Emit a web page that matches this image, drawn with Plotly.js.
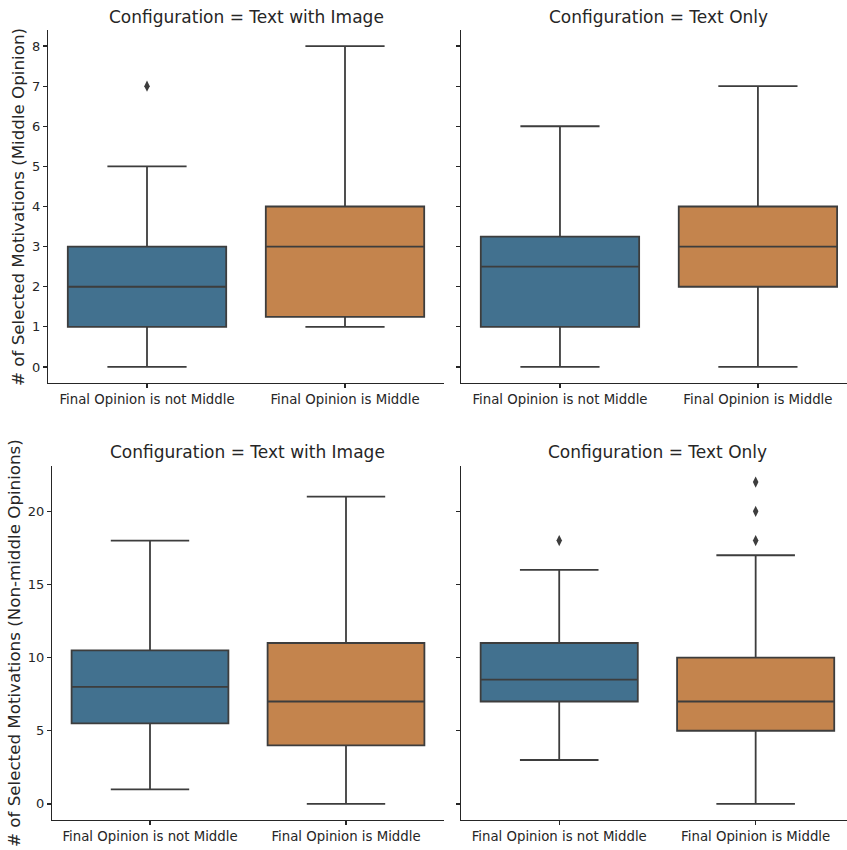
<!DOCTYPE html>
<html>
<head>
<meta charset="utf-8">
<script src="https://cdn.plot.ly/plotly-3.0.1.min.js"></script>
<style>html,body{margin:0;padding:0;background:#fff;}#chart{width:847px;height:850px;}</style>
</head>
<body>
<div id="chart"></div>
<script>
// ---- Data ----
const categories = ["Final Opinion is not Middle", "Final Opinion is Middle"];
const configurations = ["Text with Image", "Text Only"];
const rowLabels = ["# of Selected Motivations (Middle Opinion)", "# of Selected Motivations (Non-middle Opinions)"];

// Row 1: Middle Opinion — Text with Image
const midImgQ1 = [1, 1.25];
const midImgMedian = [2, 3];
const midImgQ3 = [3, 4];
const midImgLower = [0, 1];
const midImgUpper = [5, 8];
const midImgOutlierCat = ["Final Opinion is not Middle"];
const midImgOutlierVal = [7];

// Row 1: Middle Opinion — Text Only
const midTxtQ1 = [1, 2];
const midTxtMedian = [2.5, 3];
const midTxtQ3 = [3.25, 4];
const midTxtLower = [0, 0];
const midTxtUpper = [6, 7];
const midTxtOutlierCat = [];
const midTxtOutlierVal = [];

// Row 2: Non-middle Opinions — Text with Image
const nonImgQ1 = [5.5, 4];
const nonImgMedian = [8, 7];
const nonImgQ3 = [10.5, 11];
const nonImgLower = [1, 0];
const nonImgUpper = [18, 21];
const nonImgOutlierCat = [];
const nonImgOutlierVal = [];

// Row 2: Non-middle Opinions — Text Only
const nonTxtQ1 = [7, 5];
const nonTxtMedian = [8.5, 7];
const nonTxtQ3 = [11, 10];
const nonTxtLower = [3, 0];
const nonTxtUpper = [16, 17];
const nonTxtOutlierCat = ["Final Opinion is not Middle", "Final Opinion is Middle", "Final Opinion is Middle", "Final Opinion is Middle"];
const nonTxtOutlierVal = [18, 18, 20, 22];

const row1Ticks = [0, 1, 2, 3, 4, 5, 6, 7, 8];
const row2Ticks = [0, 5, 10, 15, 20];

// ---- Styling ----
const boxColors = ["#42718f", "#c4844d"];
const edge = "#3d3d3d";
const ink = "#262626";
const FONT = "DejaVu Sans, Liberation Sans, sans-serif";
const W = 847, H = 850;

const panels = [
  {xa: "x",  ya: "y",  q1: midImgQ1, med: midImgMedian, q3: midImgQ3, lo: midImgLower, hi: midImgUpper, oc: midImgOutlierCat, ov: midImgOutlierVal},
  {xa: "x2", ya: "y2", q1: midTxtQ1, med: midTxtMedian, q3: midTxtQ3, lo: midTxtLower, hi: midTxtUpper, oc: midTxtOutlierCat, ov: midTxtOutlierVal},
  {xa: "x3", ya: "y3", q1: nonImgQ1, med: nonImgMedian, q3: nonImgQ3, lo: nonImgLower, hi: nonImgUpper, oc: nonImgOutlierCat, ov: nonImgOutlierVal},
  {xa: "x4", ya: "y4", q1: nonTxtQ1, med: nonTxtMedian, q3: nonTxtQ3, lo: nonTxtLower, hi: nonTxtUpper, oc: nonTxtOutlierCat, ov: nonTxtOutlierVal}
];

const traces = [];
panels.forEach(p => {
  categories.forEach((c, i) => {
    traces.push({
      type: "box", xaxis: p.xa, yaxis: p.ya,
      x: [c], q1: [p.q1[i]], median: [p.med[i]], q3: [p.q3[i]],
      lowerfence: [p.lo[i]], upperfence: [p.hi[i]],
      boxpoints: false, width: 0.8, whiskerwidth: 0.5,
      fillcolor: boxColors[i], line: {color: edge, width: 1.8},
      showlegend: false, hoverinfo: "skip"
    });
  });
  if (p.ov.length) {
    traces.push({
      type: "scatter", mode: "markers", xaxis: p.xa, yaxis: p.ya,
      x: p.oc, y: p.ov,
      marker: {symbol: "diamond-tall", size: 8, color: edge, line: {width: 0}},
      showlegend: false, hoverinfo: "skip"
    });
  }
});

function px(x) { return x / W; }
function py(y) { return 1 - y / H; }

function xBase(range) {
  return {
    type: "category", categoryorder: "array", categoryarray: categories,
    range: range, showline: true, linecolor: ink, linewidth: 1.2,
    ticks: "outside", ticklen: 4, tickwidth: 1.2, tickcolor: ink,
    showgrid: false, zeroline: false, fixedrange: true,
    tickfont: {family: FONT, size: 13.3, color: ink}
  };
}
function yBase(range, ticks, showLabels) {
  return {
    range: range, tickmode: "array", tickvals: ticks, ticktext: ticks.map(String),
    showticklabels: showLabels, showline: true, linecolor: ink, linewidth: 1.2,
    ticks: "outside", ticklen: 4, tickwidth: 1.2, tickcolor: ink,
    showgrid: false, zeroline: false, fixedrange: true,
    tickfont: {family: FONT, size: 13, color: ink}
  };
}

const topY = [py(383), py(30)];
const botY = [py(820), py(466)];

const layout = {
  width: W, height: H,
  margin: {l: 0, r: 0, t: 0, b: 0},
  paper_bgcolor: "#fff", plot_bgcolor: "#fff",
  boxmode: "overlay",
  showlegend: false,
  xaxis:  Object.assign(xBase([-0.5, 1.5]),   {domain: [px(48), px(444)], anchor: "y"}),
  xaxis2: Object.assign(xBase([-0.5, 1.45]),  {domain: [px(461), 1], anchor: "y2"}),
  xaxis3: Object.assign(xBase([-0.5, 1.5]),   {domain: [px(52), px(444)], anchor: "y3"}),
  xaxis4: Object.assign(xBase([-0.5, 1.465]), {domain: [px(461), 1], anchor: "y4"}),
  yaxis:  Object.assign(yBase([-0.4, 8.4], row1Ticks, true),  {domain: topY, anchor: "x"}),
  yaxis2: Object.assign(yBase([-0.4, 8.4], row1Ticks, false), {domain: topY, anchor: "x2"}),
  yaxis3: Object.assign(yBase([-1.1, 23.1], row2Ticks, true),  {domain: botY, anchor: "x3"}),
  yaxis4: Object.assign(yBase([-1.1, 23.1], row2Ticks, false), {domain: botY, anchor: "x4"}),
  annotations: [
    {text: "Configuration = " + configurations[0], xref: "paper", yref: "paper", x: px((48 + 444) / 2), y: py(17), xanchor: "center", yanchor: "middle", showarrow: false, font: {family: FONT, size: 17, color: ink}},
    {text: "Configuration = " + configurations[1], xref: "paper", yref: "paper", x: px(658), y: py(17), xanchor: "center", yanchor: "middle", showarrow: false, font: {family: FONT, size: 17, color: ink}},
    {text: "Configuration = " + configurations[0], xref: "paper", yref: "paper", x: px((52 + 444) / 2), y: py(452), xanchor: "center", yanchor: "middle", showarrow: false, font: {family: FONT, size: 17, color: ink}},
    {text: "Configuration = " + configurations[1], xref: "paper", yref: "paper", x: px(657), y: py(452), xanchor: "center", yanchor: "middle", showarrow: false, font: {family: FONT, size: 17, color: ink}},
    {text: rowLabels[0], xref: "paper", yref: "paper", x: px(18), y: py(207), xanchor: "center", yanchor: "middle", textangle: -90, showarrow: false, font: {family: FONT, size: 16.7, color: ink}},
    {text: rowLabels[1], xref: "paper", yref: "paper", x: px(14), y: py(643), xanchor: "center", yanchor: "middle", textangle: -90, showarrow: false, font: {family: FONT, size: 16.7, color: ink}}
  ]
};

Plotly.newPlot("chart", traces, layout, {staticPlot: true, displayModeBar: false});
</script>
</body>
</html>
